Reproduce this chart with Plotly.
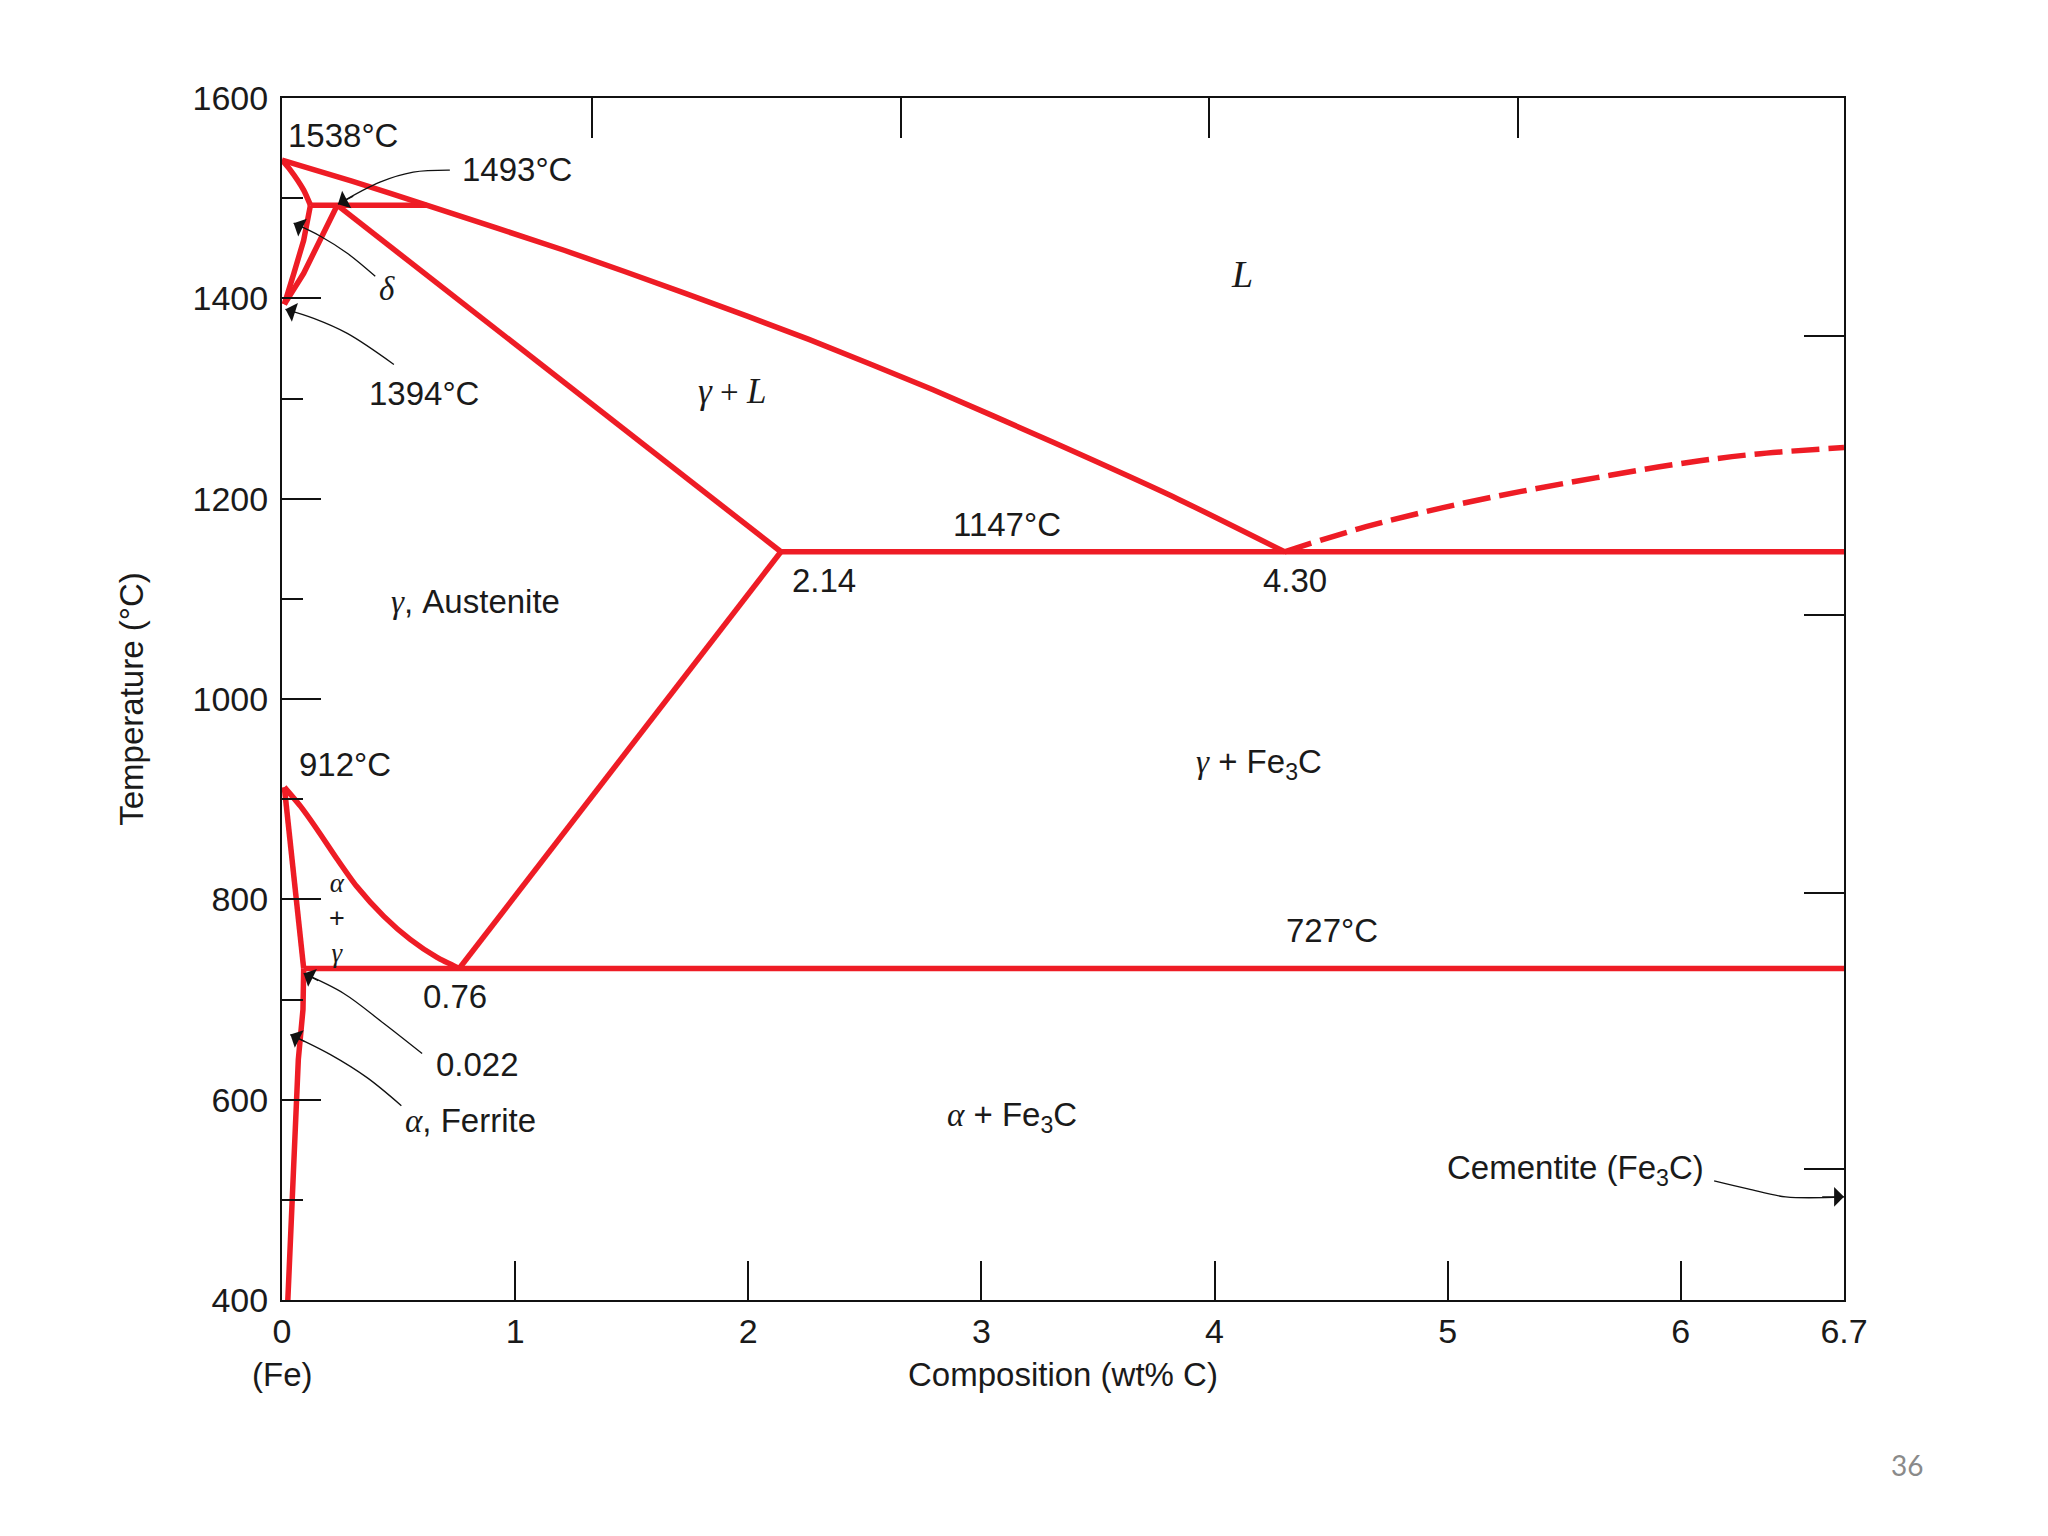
import plotly.graph_objects as go

# ---------------- data (wt% C, temperature in degC) ----------------
liquidus_x = [0, 0.30, 0.62, 1.21, 1.73, 2.26, 2.79, 3.31, 3.84, 4.30]
liquidus_t = [1538, 1517, 1493, 1448, 1405, 1359, 1309, 1256, 1200, 1147]

delta_sol_x = [0, 0.036, 0.093, 0.122]
delta_sol_t = [1538, 1528, 1508, 1493]

delta_low_x = [0.122, 0.093, 0.051, 0.01]
delta_low_t = [1493, 1458, 1425, 1394]

gamma_top_x = [0.237, 0.165, 0.093, 0.01]
gamma_top_t = [1493, 1458, 1425, 1394]

peritectic_x = [0.122, 0.62]
peritectic_t = [1493, 1493]

gamma_sol_x = [0.237, 1.2, 2.14]
gamma_sol_t = [1493, 1318, 1147]

eutectic_x = [2.14, 6.7]
eutectic_t = [1147, 1147]

acm_x = [0.76, 2.14]
acm_t = [731, 1147]

a3_x = [0.01, 0.079, 0.15, 0.237, 0.32, 0.437, 0.55, 0.665, 0.76]
a3_t = [912, 893, 870, 840, 813, 783, 760, 742, 731]

alpha_x = [0.01, 0.093]
alpha_t = [912, 731]

solvus_x = [0.093, 0.090, 0.070, 0.055, 0.040, 0.025]
solvus_t = [731, 690, 640, 560, 470, 400]

eutectoid_x = [0.093, 6.7]
eutectoid_t = [731, 731]

fe3c_liq_x = [4.30, 4.65, 4.98, 5.31, 5.64, 5.97, 6.30, 6.70]
fe3c_liq_t = [1147, 1172, 1191, 1207, 1221, 1234, 1244, 1251]

x_tick_vals = [0, 1, 2, 3, 4, 5, 6, 6.7]
x_tick_text = ["0", "1", "2", "3", "4", "5", "6", "6.7"]
y_tick_vals = [400, 600, 800, 1000, 1200, 1400, 1600]
top_tick_vals = [1.328, 2.653, 3.977, 5.301]
right_tick_vals = [1362, 1084, 806, 531]

# leader lines for labels (tail ... tip)
leaders = [
    ([0.72, 0.563, 0.42, 0.24], [1528, 1526, 1516, 1494]),
    ([0.40, 0.28, 0.165, 0.05], [1422, 1445, 1462, 1475]),
    ([0.48, 0.28, 0.136, 0.015], [1334, 1365, 1380, 1389]),
    ([0.601, 0.437, 0.265, 0.093], [646, 676, 706, 726]),
    ([0.512, 0.365, 0.208, 0.036], [594, 622, 645, 665]),
    ([6.143, 6.288, 6.45, 6.70], [519, 511, 503, 503]),
]

RED = "#ee1c25"
INK = "#1a1a1a"
SANS = "Liberation Sans, Arial, sans-serif"
SERIF_NAME = "Liberation Serif"


def g(s, size=35):
    return (f"<span style='font-family:{SERIF_NAME};font-size:{size}px'>"
            f"<i>{s}</i></span>")


def gi(s):
    return f"<span style='font-family:{SERIF_NAME}'><i>{s}</i></span>"


fig = go.Figure()

straight = [
    (delta_low_x, delta_low_t), (gamma_top_x, gamma_top_t), (peritectic_x, peritectic_t),
    (gamma_sol_x, gamma_sol_t), (eutectic_x, eutectic_t), (acm_x, acm_t),
    (alpha_x, alpha_t), (solvus_x, solvus_t), (eutectoid_x, eutectoid_t),
]
curved = [(liquidus_x, liquidus_t), (delta_sol_x, delta_sol_t), (a3_x, a3_t)]

for xs, ts in straight:
    fig.add_trace(go.Scatter(x=xs, y=ts, mode="lines",
                             line=dict(color=RED, width=5.5),
                             hoverinfo="skip", showlegend=False))
for xs, ts in curved:
    fig.add_trace(go.Scatter(x=xs, y=ts, mode="lines",
                             line=dict(color=RED, width=5.5, shape="spline", smoothing=0.6),
                             hoverinfo="skip", showlegend=False))

fig.add_trace(go.Scatter(x=fe3c_liq_x, y=fe3c_liq_t, mode="lines",
                         line=dict(color=RED, width=5.5, dash="28px,9px", shape="spline"),
                         hoverinfo="skip", showlegend=False))

for lx, lt in leaders:
    fig.add_trace(go.Scatter(x=lx, y=lt, mode="lines",
                             line=dict(color="#111", width=1.3, shape="spline"),
                             hoverinfo="skip", showlegend=False))

# dummy trace for secondary (top / right) tick axes
fig.add_trace(go.Scatter(x=[None], y=[None], xaxis="x2", yaxis="y2",
                         showlegend=False, hoverinfo="skip"))

annotations = []
# arrowheads
for lx, lt in leaders:
    annotations.append(dict(x=lx[-1], y=lt[-1], ax=lx[-2] + (lx[-1] - lx[-2]) * 0.6,
                            ay=lt[-2] + (lt[-1] - lt[-2]) * 0.6,
                            xref="x", yref="y", axref="x", ayref="y",
                            text="", showarrow=True, arrowhead=1, arrowsize=3,
                            arrowwidth=1.1, arrowcolor="#111"))

labels = [
    ("1538°C", 0.015, 1563, "left"),
    ("1493°C", 0.765, 1528.6, "left"),
    (g("δ", 33), 0.451, 1409, "center"),
    ("1394°C", 0.611, 1305, "center"),
    (g("L", 38), 4.119, 1424, "center"),
    (g("γ") + g(" + ", 33).replace("<i>", "").replace("</i>", "") + g("L"), 1.929, 1307, "center"),
    ("1147°C", 3.111, 1174, "center"),
    ("2.14", 2.18, 1118, "left"),
    ("4.30", 4.20, 1118, "left"),
    (g("γ", 33) + ", Austenite", 0.831, 1097, "center"),
    ("912°C", 0.064, 935, "left"),
    (g("γ", 33) + " + Fe<sub>3</sub>C", 4.19, 935, "center"),
    ("727°C", 4.505, 769, "center"),
    ("0.76", 0.74, 703, "center"),
    ("0.022", 0.837, 635.5, "center"),
    (g("α", 33) + ", Ferrite", 0.808, 579, "center"),
    (g("α", 33) + " + Fe<sub>3</sub>C", 3.133, 583, "center"),
    ("Cementite (Fe<sub>3</sub>C)", 5.547, 530, "center"),
]
for txt, x, y, anchor in labels:
    annotations.append(dict(x=x, y=y, xref="x", yref="y", text=txt, showarrow=False,
                            xanchor=anchor, yanchor="middle",
                            font=dict(family=SANS, size=33, color=INK)))

# stacked alpha + gamma label (one text block)
annotations.append(dict(x=0.238, y=781, xref="x", yref="y",
                        text=gi("α") + "<br>+<br>" + gi("γ"),
                        showarrow=False, xanchor="center", yanchor="middle",
                        font=dict(family=SANS, size=27, color=INK)))

annotations.append(dict(x=0, y=0, xref="x", yref="paper", yshift=-74, text="(Fe)",
                        showarrow=False, xanchor="center", yanchor="middle",
                        font=dict(family=SANS, size=33, color=INK)))
annotations.append(dict(x=1.0403, y=-0.137, xref="paper", yref="paper", text="36",
                        showarrow=False, xanchor="center", yanchor="middle",
                        font=dict(family="Lato, Open Sans, sans-serif", size=28, color="#8a8a8a")))

axis_common = dict(showgrid=False, zeroline=False, ticks="inside", tickcolor="#111", tickwidth=2)

fig.update_layout(
    width=2032, height=1520,
    margin=dict(l=274, r=196, t=90, b=228),
    paper_bgcolor="white", plot_bgcolor="white",
    font=dict(family=SANS, size=33, color=INK),
    showlegend=False,
    xaxis=dict(range=[0, 6.7], tickvals=x_tick_vals, ticktext=x_tick_text, ticklen=39,
               showline=True, mirror=True, linecolor="#111", linewidth=2,
               title=dict(text="Composition (wt% C)", standoff=14,
                          font=dict(family=SANS, size=33, color=INK)),
               tickfont=dict(family=SANS, size=34, color=INK), **axis_common),
    yaxis=dict(range=[400, 1600], tickvals=y_tick_vals, ticklen=39,
               showline=True, mirror=True, linecolor="#111", linewidth=2,
               ticklabelstandoff=5,
               minor=dict(ticks="inside", ticklen=21, dtick=100, tick0=400,
                          tickcolor="#111", tickwidth=2),
               title=dict(text="Temperature (°C)", standoff=39,
                          font=dict(family=SANS, size=33, color=INK)),
               tickfont=dict(family=SANS, size=34, color=INK), **axis_common),
    xaxis2=dict(range=[0, 6.7], overlaying="x", side="top", tickvals=top_tick_vals,
                ticklen=40, showticklabels=False, showline=False, **axis_common),
    yaxis2=dict(range=[400, 1600], overlaying="y", side="right", tickvals=right_tick_vals,
                ticklen=40, showticklabels=False, showline=False, **axis_common),
    annotations=annotations,
)

fig.write_html("out.html")
